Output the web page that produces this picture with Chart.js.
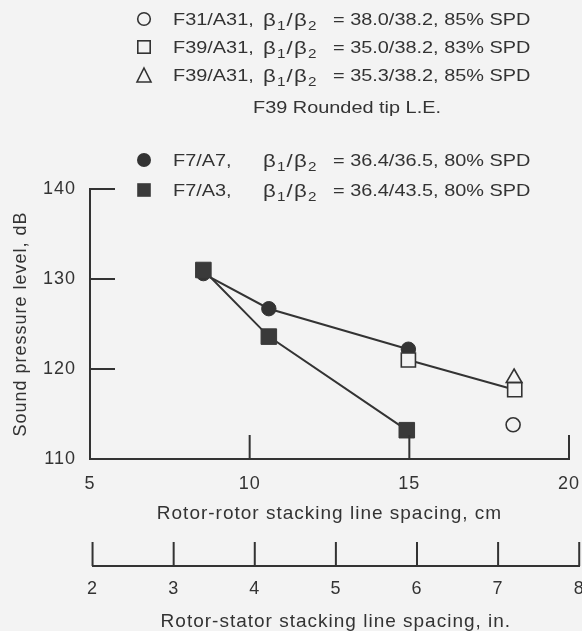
<!DOCTYPE html>
<html>
<head>
<meta charset="utf-8">
<script src="https://cdn.jsdelivr.net/npm/chart.js@4.4.1/dist/chart.umd.min.js"></script>
<style>
  html, body { margin: 0; padding: 0; background: #f3f3f3; }
  #wrap { position: relative; width: 582px; height: 631px; background: #f3f3f3; overflow: hidden; }
  #chart { position: absolute; left: 0; top: 0; }
  #legend {
    position: absolute; left: 0; top: 0; width: 582px; height: 220px;
    font-family: "Liberation Sans", Arial, sans-serif; font-size: 17px; line-height: 17px;
    color: #333;
  }
  #legend span { position: absolute; white-space: nowrap; transform: scaleX(1.17); transform-origin: 0 0; }
  #legend span.beta { font-size: 19px; line-height: 17px; letter-spacing: 1px; }
  #legend sub { font-size: 13px; line-height: 0; vertical-align: -4px; }
  #legend svg { position: absolute; overflow: visible; }
</style>
</head>
<body>
<div id="wrap">
  <canvas id="chart" width="582" height="631"></canvas>
  <div id="legend"></div>
</div>
<script>
// axis ranges
const cmRange = [5, 20];
const inchRange = [2, 8];
const splRange = [110, 140];
const CM_PER_IN = 2.54;

// F7/A7 (filled circles)
const f7a7X = [8.55, 10.6, 14.97];
const f7a7Y = [130.6, 126.7, 122.2];
// F7/A3 (filled squares)
const f7a3X = [8.55, 10.6, 14.92];
const f7a3Y = [131.0, 123.6, 113.2];
// F39/A31, 35.0/38.2 (open squares)
const f39aX = [14.97, 18.3];
const f39aY = [121.0, 117.7];
// F39/A31, 35.3/38.2 (open triangle)
const f39bX = [18.28];
const f39bY = [119.0];
// F31/A31 (open circle)
const f31X = [18.25];
const f31Y = [113.8];

// legend texts
const legendNames = ["F31/A31,", "F39/A31,", "F39/A31,", "F7/A7,", "F7/A3,"];
const legendAngles = ["38.0/38.2", "35.0/38.2", "35.3/38.2", "36.4/36.5", "36.4/43.5"];
const legendSpeeds = ["85% SPD", "83% SPD", "85% SPD", "80% SPD", "80% SPD"];
const legendMarkers = ["openCircle", "openSquare", "openTriangle", "filledCircle", "filledSquare"];
const legendNote = "F39 Rounded tip L.E.";

const INK = "#333";
const BG = "#f3f3f3";
const FONT = '"Liberation Sans", Arial, sans-serif';

// ---- legend (html) ----
const legendBox = document.getElementById("legend");
const rowBaselines = [25.3, 53.5, 81.8, 166.7, 196.7];
const markerY = [19.3, 47, 75, 160, 189.6];

function markerSvg(kind, cx, cy) {
    let shape = "";
    if (kind === "openCircle") shape = `<circle cx="8" cy="8" r="6.3" fill="none" stroke="${INK}" stroke-width="1.6"/>`;
    if (kind === "openSquare") shape = `<rect x="1.8" y="1.8" width="12.4" height="12.4" fill="none" stroke="${INK}" stroke-width="1.6"/>`;
    if (kind === "openTriangle") shape = `<polygon points="8,1 15,15 1,15" fill="none" stroke="${INK}" stroke-width="1.6"/>`;
    if (kind === "filledCircle") shape = `<circle cx="8" cy="8" r="7" fill="${INK}"/>`;
    if (kind === "filledSquare") shape = `<rect x="1.2" y="1.2" width="13.6" height="13.6" fill="#3a3a3a"/>`;
    return `<svg width="16" height="16" style="left:${cx - 8}px;top:${cy - 8}px">${shape}</svg>`;
}

let html = "";
legendNames.forEach((name, i) => {
    const top = rowBaselines[i] - 14.4;
    html += markerSvg(legendMarkers[i], 144, markerY[i]);
    html += `<span style="left:173px;top:${top}px">${name}</span>`;
    html += `<span class="beta" style="left:263px;top:${top}px">β<sub>1</sub>/β<sub>2</sub></span>`;
    html += `<span style="left:333px;top:${top}px">= ${legendAngles[i]}, ${legendSpeeds[i]}</span>`;
});
html += `<span style="left:253px;top:${113.3 - 14.4}px">${legendNote}</span>`;
legendBox.innerHTML = html;

// ---- chart ----
function pts(xs, ys) {
    return xs.map((x, i) => ({ x: x, y: ys[i] }));
}

// draws inward tick marks and lines up the inch axis with the cm axis
const axisPlugin = {
    id: "axisPlugin",
    afterLayout(chart) {
        const x = chart.scales.x;
        const x2 = chart.scales.x2;
        x2.left = x.getPixelForValue(inchRange[0] * CM_PER_IN);
        x2.right = x.getPixelForValue(inchRange[1] * CM_PER_IN);
        x2.width = x2.right - x2.left;
        x2.configure();
    },
    beforeDraw(chart) {
        chart.ctx.letterSpacing = "1px";
    },
    afterDraw(chart) {
        const ctx = chart.ctx;
        const { x, x2, y } = chart.scales;
        ctx.save();
        ctx.strokeStyle = INK;
        ctx.lineWidth = 2;
        ctx.beginPath();
        [x, x2].forEach(s => {
            s.ticks.forEach(t => {
                const px = s.getPixelForValue(t.value);
                ctx.moveTo(px, s.top);
                ctx.lineTo(px, s.top - 24);
            });
        });
        y.ticks.forEach(t => {
            const py = y.getPixelForValue(t.value);
            ctx.moveTo(y.right, py);
            ctx.lineTo(y.right + 25, py);
        });
        ctx.stroke();
        ctx.restore();
    }
};

function fitBottom(h) {
    return function (s) {
        s.height = h;
        s.paddingLeft = 0;
        s.paddingRight = 0;
    };
}

new Chart(document.getElementById("chart"), {
    type: "scatter",
    data: {
        datasets: [
            {
                label: "F39/A31, 35.0/38.2, 83% SPD",
                data: pts(f39aX, f39aY),
                showLine: true,
                borderColor: INK,
                borderWidth: 2,
                pointStyle: "rect",
                pointRadius: 10,
                pointBackgroundColor: BG,
                pointBorderColor: INK,
                pointBorderWidth: 1.6
            },
            {
                label: "F39/A31, 35.3/38.2, 85% SPD",
                data: pts(f39bX, f39bY),
                pointStyle: "triangle",
                pointRadius: 9,
                pointBackgroundColor: BG,
                pointBorderColor: INK,
                pointBorderWidth: 1.6
            },
            {
                label: "F31/A31, 38.0/38.2, 85% SPD",
                data: pts(f31X, f31Y),
                pointStyle: "circle",
                pointRadius: 7,
                pointBackgroundColor: BG,
                pointBorderColor: INK,
                pointBorderWidth: 1.6
            },
            {
                label: "F7/A3, 36.4/43.5, 80% SPD",
                data: pts(f7a3X, f7a3Y),
                showLine: true,
                borderColor: INK,
                borderWidth: 2,
                pointStyle: "rect",
                pointRadius: 11,
                pointBackgroundColor: "#3a3a3a",
                pointBorderColor: "#3a3a3a",
                pointBorderWidth: 1
            },
            {
                label: "F7/A7, 36.4/36.5, 80% SPD",
                data: pts(f7a7X, f7a7Y),
                showLine: true,
                borderColor: INK,
                borderWidth: 2,
                pointStyle: "circle",
                pointRadius: 7.2,
                pointBackgroundColor: INK,
                pointBorderColor: INK,
                pointBorderWidth: 1
            }
        ]
    },
    options: {
        responsive: false,
        animation: false,
        layout: { padding: { top: 189, right: 13, bottom: 0, left: 0 } },
        plugins: {
            legend: { display: false },
            tooltip: { enabled: false }
        },
        scales: {
            x: {
                type: "linear",
                position: "bottom",
                min: cmRange[0],
                max: cmRange[1],
                grid: { display: false, drawTicks: false },
                border: { color: INK, width: 2 },
                ticks: { stepSize: 5, color: INK, padding: 14, font: { family: FONT, size: 18 } },
                title: {
                    display: true,
                    text: "Rotor-rotor stacking line spacing, cm",
                    color: INK,
                    font: { family: FONT, size: 19 },
                    padding: { top: 0, bottom: 41 }
                },
                afterFit: fitBottom(107)
            },
            x2: {
                type: "linear",
                position: "bottom",
                weight: 1,
                min: inchRange[0],
                max: inchRange[1],
                grid: { display: false, drawTicks: false },
                border: { color: INK, width: 2 },
                ticks: { stepSize: 1, color: INK, padding: 12, font: { family: FONT, size: 18 } },
                title: {
                    display: true,
                    text: "Rotor-stator stacking line spacing, in.",
                    color: INK,
                    font: { family: FONT, size: 19, lineHeight: 1 },
                    padding: { top: 0, bottom: 0 }
                },
                afterFit: fitBottom(65)
            },
            y: {
                type: "linear",
                position: "left",
                min: splRange[0],
                max: splRange[1],
                grid: { display: false, drawTicks: false },
                border: { color: INK, width: 2 },
                ticks: { stepSize: 10, color: INK, padding: 14, font: { family: FONT, size: 18 } },
                title: {
                    display: true,
                    text: "Sound pressure level, dB",
                    color: INK,
                    font: { family: FONT, size: 18 },
                    padding: { top: 10, bottom: 0 }
                },
                afterFit(s) {
                    s.width = 90;
                    s.paddingTop = 0;
                    s.paddingBottom = 0;
                }
            }
        }
    },
    plugins: [axisPlugin]
});
</script>
</body>
</html>
